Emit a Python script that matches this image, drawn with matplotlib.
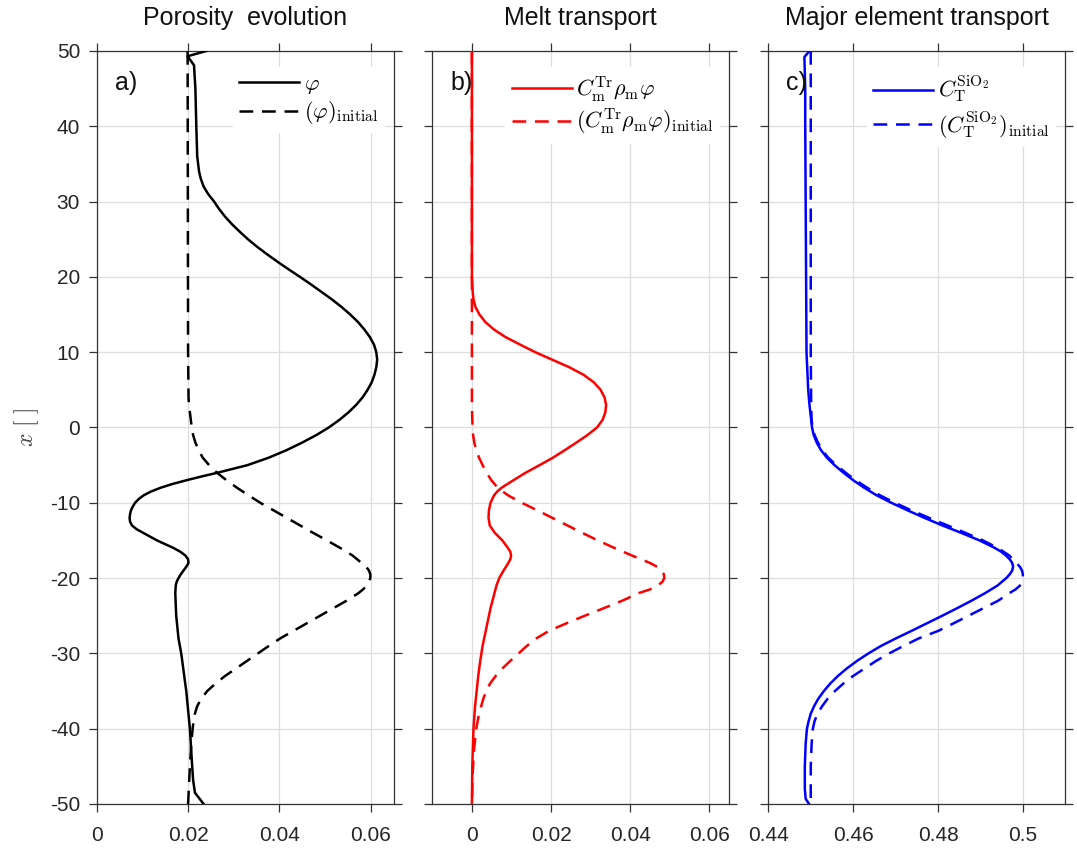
import matplotlib
matplotlib.use("Agg")
import matplotlib.pyplot as plt

plt.rcParams['font.family'] = ['Liberation Sans', 'DejaVu Sans']
plt.rcParams['mathtext.fontset'] = 'cm'
plt.rcParams['axes.unicode_minus'] = False

# porosity profile (depth, value)
y_phi = [50, 49.3, 48.1, 45, 40, 36, 35, 34, 33, 32, 31, 30, 29, 28, 27, 26, 25, 24,
         23, 22, 21, 20, 19, 18, 17, 16, 15, 14, 13, 12, 11, 10, 9, 8, 7, 6, 5, 4,
         3, 2, 1, 0, -1, -2, -3, -4, -5, -6, -6.5, -7, -7.5, -8, -8.5, -9, -9.5,
         -10, -10.5, -11, -11.5, -12, -12.5, -13, -13.5, -14, -14.5, -15, -15.5,
         -16, -16.5, -17, -17.5, -18, -18.5, -19, -19.5, -20, -20.5, -21, -22, -25,
         -28, -30, -35, -40, -45, -46.8, -48.5, -50]
phi = [0.0240, 0.0199, 0.0213, 0.0216, 0.0218, 0.0220, 0.0222, 0.0224, 0.0228,
       0.0234, 0.0244, 0.0257, 0.0268, 0.0281, 0.0296, 0.0313, 0.0331, 0.0351,
       0.0373, 0.0396, 0.0420, 0.0445, 0.0469, 0.0492, 0.0515, 0.0536, 0.0555,
       0.0572, 0.0586, 0.0598, 0.0607, 0.0612, 0.0614, 0.0612, 0.0608, 0.0602,
       0.0593, 0.0582, 0.0568, 0.0551, 0.0531, 0.0508, 0.0481, 0.0450, 0.0416,
       0.0377, 0.0330, 0.0265, 0.0230, 0.0197, 0.0166, 0.0140, 0.0119, 0.0103,
       0.0092, 0.0084, 0.0079, 0.0075, 0.0073, 0.0072, 0.0073, 0.0077, 0.0087,
       0.0102, 0.0117, 0.0132, 0.0150, 0.0168, 0.0183, 0.0194, 0.0200, 0.0201,
       0.0196, 0.0190, 0.0184, 0.0179, 0.0175, 0.0173, 0.0172, 0.0174, 0.0179,
       0.0185, 0.0196, 0.0204, 0.0209, 0.0211, 0.0215, 0.0234]

y_phi0 = [50, 10, 4, 3, 2, 1, 0, -1, -2, -3, -4, -5, -6, -7, -8, -9, -10, -11, -12,
          -13, -14, -15, -16, -17, -18, -18.5, -19, -19.5, -20, -20.5, -21, -21.5,
          -22, -23, -24, -25, -26, -27, -28, -29, -30, -31, -32, -33, -34, -35,
          -36, -37, -38, -39, -40, -42, -45, -50]
phi0 = [0.0199, 0.0200, 0.0201, 0.0202, 0.0204, 0.0206, 0.0208, 0.0211, 0.0216,
        0.0223, 0.0232, 0.0246, 0.0263, 0.0284, 0.0307, 0.0332, 0.0358, 0.0387,
        0.0416, 0.0445, 0.0474, 0.0504, 0.0533, 0.0560, 0.0580, 0.0590, 0.0596,
        0.0599, 0.0599, 0.0596, 0.0591, 0.0583, 0.0573, 0.0547, 0.0518, 0.0489,
        0.0460, 0.0431, 0.0402, 0.0377, 0.0353, 0.0329, 0.0305, 0.0281, 0.0260,
        0.0242, 0.0229, 0.0220, 0.0215, 0.0212, 0.0210, 0.0207, 0.0204, 0.0200]

# trace element flux carried by the melt
y_melt = [50, 20, 19, 18, 17, 16, 15, 14, 13, 12, 11, 10, 9, 8, 7, 6, 5, 4, 3, 2, 1,
          0, -1, -2, -3, -4, -5, -6, -7, -8, -8.5, -9, -10, -11, -12, -13, -14, -15,
          -16, -16.5, -17, -17.5, -18, -19, -20, -21, -22, -23, -24, -25, -27, -29,
          -31, -33, -35, -37, -40, -45, -50]
melt = [0, 0, 0.0001, 0.0002, 0.0004, 0.0009, 0.0019, 0.0034, 0.0056, 0.0085,
        0.0122, 0.0160, 0.0203, 0.0246, 0.0282, 0.0308, 0.0325, 0.0335, 0.0339,
        0.0337, 0.0330, 0.0316, 0.0292, 0.0264, 0.0235, 0.0205, 0.0171, 0.0136,
        0.0105, 0.0075, 0.0064, 0.0056, 0.0047, 0.0043, 0.0042, 0.0045, 0.0058,
        0.0077, 0.0091, 0.0097, 0.0099, 0.0097, 0.0092, 0.0080, 0.0069, 0.0062,
        0.0057, 0.0052, 0.0047, 0.0043, 0.0035, 0.0027, 0.0021, 0.0016, 0.0012,
        0.0008, 0.0004, 0.0001, 0]

y_melt0 = [50, 5, 3, 1, 0, -1, -2, -3, -4, -5, -6, -7, -8, -9, -10, -11, -12, -13,
           -14, -15, -16, -17, -18, -18.5, -19, -19.5, -20, -20.5, -21, -21.5, -22,
           -23, -24, -25, -26, -27, -28, -29, -30, -31, -32, -33, -34, -35, -36,
           -38, -40, -43, -46, -50]
melt0 = [0, 0, 0, 0.0001, 0.0002, 0.0003, 0.0006, 0.0011, 0.0018, 0.0027, 0.0037,
         0.0049, 0.0065, 0.0091, 0.0126, 0.0165, 0.0203, 0.0241, 0.0279, 0.0318,
         0.0360, 0.0404, 0.0450, 0.0468, 0.0479, 0.0485, 0.0486, 0.0481, 0.0469,
         0.0450, 0.0421, 0.0380, 0.0333, 0.0285, 0.0239, 0.0195, 0.0163, 0.0139,
         0.0118, 0.0097, 0.0077, 0.0060, 0.0046, 0.0036, 0.0029, 0.0018, 0.0011,
         0.0005, 0.0002, 0]

# bulk SiO2
y_sio2 = [50, 49.2, 45, 40, 30, 20, 10, 5, 3, 2, 1, 0, -1, -2, -3, -4, -5, -6, -7,
          -8, -9, -10, -11, -12, -13, -14, -15, -16, -16.5, -17, -17.5, -18, -18.5,
          -19, -19.5, -20, -21, -22, -23, -24, -25, -26, -27, -28, -29, -30, -31,
          -32, -33, -34, -35, -36, -37, -38, -39, -40, -42, -45, -48, -49.3, -50]
sio2 = [0.4497, 0.4485, 0.4487, 0.4487, 0.4488, 0.4489, 0.4490, 0.4494, 0.4497,
        0.4499, 0.4501, 0.4503, 0.4507, 0.4514, 0.4524, 0.4538, 0.4556, 0.4577,
        0.4600, 0.4626, 0.4655, 0.4690, 0.4728, 0.4768, 0.4810, 0.4855, 0.4898,
        0.4934, 0.4949, 0.4960, 0.4969, 0.4975, 0.4977, 0.4975, 0.4969, 0.4961,
        0.4940, 0.4911, 0.4879, 0.4845, 0.4810, 0.4774, 0.4738, 0.4701, 0.4666,
        0.4636, 0.4609, 0.4585, 0.4564, 0.4546, 0.4531, 0.4518, 0.4508, 0.4500,
        0.4495, 0.4491, 0.4488, 0.4486, 0.4486, 0.4488, 0.4496]

y_sio20 = [50, 10, 3, 1, 0, -1, -2, -3, -4, -5, -6, -7, -8, -9, -10, -11, -12, -13,
           -14, -15, -16, -17, -18, -18.5, -19, -19.5, -20, -20.5, -21, -21.5, -22,
           -23, -24, -25, -26, -27, -28, -29, -30, -31, -32, -33, -34, -35, -36,
           -37, -38, -39, -40, -42, -45, -50]
sio20 = [0.4500, 0.4500, 0.4501, 0.4502, 0.4504, 0.4509, 0.4517, 0.4527, 0.4541,
         0.4560, 0.4582, 0.4606, 0.4633, 0.4663, 0.4698, 0.4737, 0.4779, 0.4822,
         0.4865, 0.4906, 0.4941, 0.4968, 0.4985, 0.4993, 0.4998, 0.5000, 0.5000,
         0.4998, 0.4993, 0.4983, 0.4968, 0.4942, 0.4907, 0.4872, 0.4837, 0.4801,
         0.4755, 0.4719, 0.4685, 0.4654, 0.4627, 0.4600, 0.4577, 0.4557, 0.4540,
         0.4527, 0.4516, 0.4509, 0.4505, 0.4502, 0.4500, 0.4500]

titles = ['Porosity  evolution', 'Melt transport', 'Major element transport']
tags = ['a)', 'b)', 'c)']
xlims = [(0, 0.065), (-0.01, 0.065), (0.44, 0.51)]
xticks = [[0, 0.02, 0.04, 0.06], [0, 0.02, 0.04, 0.06], [0.44, 0.46, 0.48, 0.5]]
xticklabels = [['0', '0.02', '0.04', '0.06'], ['0', '0.02', '0.04', '0.06'],
               ['0.44', '0.46', '0.48', '0.5']]
yticks = list(range(-50, 51, 10))

fig = plt.figure(figsize=(10.77, 8.48), dpi=100)
lefts = [0.0898, 0.4014, 0.7134]
axes = [fig.add_axes([l, 0.0519, 0.2757, 0.888]) for l in lefts]

dash = (5.5, 3.5)
series = [
    (y_phi, phi, y_phi0, phi0, 'k', r'$\varphi$', r'$(\varphi)_{\rm initial}$'),
    (y_melt, melt, y_melt0, melt0, '#ff0000', r'$C_{\rm m}^{\rm Tr}\rho_{\rm m}\varphi$',
     r'$(C_{\rm m}^{\rm Tr}\rho_{\rm m}\varphi)_{\rm initial}$'),
    (y_sio2, sio2, y_sio20, sio20, '#0000ff', r'$C_{\rm T}^{\rm SiO_2}$',
     r'$(C_{\rm T}^{\rm SiO_2})_{\rm initial}$'),
]

for i, ax in enumerate(axes):
    ys, xs, ys0, xs0, col, lab, lab0 = series[i]
    ax.plot(xs0, ys0, color=col, lw=1.8, dashes=dash, label=lab0, zorder=3)
    ax.plot(xs, ys, color=col, lw=1.8, label=lab, zorder=4)
    handles, labels = ax.get_legend_handles_labels()
    leg = ax.legend(handles[::-1], labels[::-1], loc='upper right',
                    bbox_to_anchor=(1.007, 0.993), fontsize=16, handlelength=2.7,
                    handletextpad=0.2, labelspacing=0.15, borderpad=0.3,
                    frameon=True, fancybox=False, framealpha=1)
    leg.get_frame().set_edgecolor('none')
    leg.get_frame().set_facecolor('white')

    ax.set_xlim(*xlims[i])
    ax.set_ylim(-50, 50)
    ax.set_xticks(xticks[i])
    ax.set_xticklabels(xticklabels[i])
    ax.set_yticks(yticks)
    if i > 0:
        ax.set_yticklabels([])
    ax.grid(True, color='#dedede', lw=0.9)
    ax.set_axisbelow(True)
    ax.tick_params(direction='out', top=True, right=True, length=6, width=0.9,
                   color='#333333', labelsize=15, labelcolor='#262626')
    ax.tick_params(axis='x', pad=10)
    ax.tick_params(axis='y', pad=6)
    for s in ax.spines.values():
        s.set_color('#333333')
        s.set_linewidth(0.9)
    ax.set_title(titles[i], fontsize=18, pad=19, color='#111111')
    ax.text(0.06, 0.957, tags[i], transform=ax.transAxes, fontsize=18,
            va='center', ha='left', color='#111111', zorder=6)

axes[0].set_ylabel(r'$x\ [\ ]$', fontsize=17, color='#404040', labelpad=6)

fig.savefig('out.png', dpi=100)
